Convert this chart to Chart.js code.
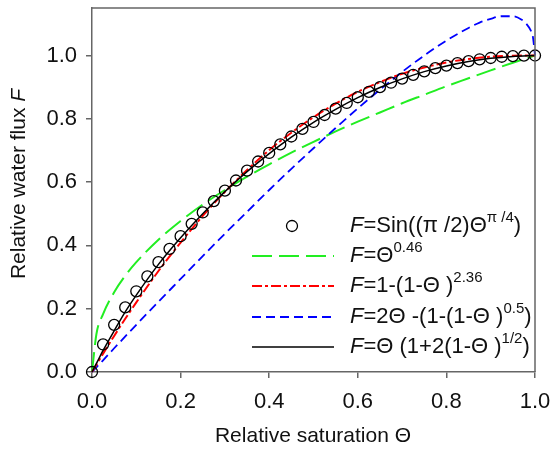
<!DOCTYPE html>
<html>
<head>
<meta charset="utf-8">
<script src="https://cdn.jsdelivr.net/npm/chart.js@4/dist/chart.umd.min.js"></script>
<style>
  html, body { margin: 0; padding: 0; background: #fff; }
  #chart { display: block; }
</style>
</head>
<body>
<canvas id="chart" width="551" height="452"></canvas>
<script>
// circles: F = Sin((pi/2) Theta^(pi/4))
const thetaCircle = [0, 0.025, 0.05, 0.075, 0.1, 0.125, 0.15, 0.175, 0.2, 0.225, 0.25, 0.275, 0.3, 0.325, 0.35,
    0.375, 0.4, 0.425, 0.45, 0.475, 0.5, 0.525, 0.55, 0.575, 0.6, 0.625, 0.65, 0.675, 0.7, 0.725, 0.75,
    0.775, 0.8, 0.825, 0.85, 0.875, 0.9, 0.925, 0.95, 0.975, 1.0];
const fCircle = [0, 0.087, 0.149, 0.204, 0.255, 0.302, 0.347, 0.389, 0.429, 0.468, 0.504, 0.540, 0.573, 0.605, 0.636,
    0.665, 0.692, 0.719, 0.744, 0.768, 0.790, 0.812, 0.832, 0.850, 0.868, 0.885, 0.900, 0.914, 0.927, 0.939, 0.950,
    0.960, 0.968, 0.976, 0.982, 0.988, 0.992, 0.996, 0.998, 0.9995, 1.0];

// curves
const thetaLine = [0, 0.01, 0.025, 0.05, 0.075, 0.1, 0.15, 0.2, 0.25, 0.3, 0.35, 0.4, 0.45, 0.5,
    0.55, 0.6, 0.65, 0.7, 0.75, 0.8, 0.85, 0.9, 0.95, 1.0];
const fGreen = [0, 0.120, 0.183, 0.252, 0.304, 0.347, 0.418, 0.477, 0.529, 0.575, 0.617, 0.656, 0.693, 0.727,
    0.760, 0.791, 0.820, 0.849, 0.876, 0.903, 0.928, 0.953, 0.977, 1.0];
const fRed = [0, 0.023, 0.058, 0.114, 0.168, 0.220, 0.319, 0.409, 0.493, 0.569, 0.638, 0.701, 0.756, 0.805,
    0.848, 0.885, 0.916, 0.942, 0.962, 0.978, 0.989, 0.996, 0.999, 1.0];
const fBlack = [0, 0.027, 0.068, 0.130, 0.190, 0.243, 0.340, 0.424, 0.500, 0.570, 0.633, 0.690, 0.742, 0.789,
    0.830, 0.867, 0.899, 0.926, 0.949, 0.967, 0.981, 0.991, 0.997, 1.0];

const thetaBlue = [0, 0.025, 0.05, 0.1, 0.15, 0.2, 0.25, 0.3, 0.35, 0.4, 0.45, 0.5, 0.55, 0.6, 0.65, 0.7, 0.75,
    0.8, 0.85, 0.875, 0.9, 0.925, 0.95, 0.97, 0.98, 0.99, 0.995, 1.0];
const fBlue = [0, 0.037, 0.075, 0.149, 0.222, 0.294, 0.366, 0.437, 0.506, 0.575, 0.642, 0.707, 0.771, 0.833,
    0.892, 0.948, 1.000, 1.047, 1.087, 1.104, 1.116, 1.124, 1.124, 1.113, 1.101, 1.080, 1.061, 1.0];

const xTicks = [0, 0.2, 0.4, 0.6, 0.8, 1.0];
const yTicks = [0, 0.2, 0.4, 0.6, 0.8, 1.0];

const legendRows = [
    [["F", "i"], ["=Sin((\u03c0 /2)\u0398", "n"], ["\u03c0 /4", "s"], [")", "n"]],
    [["F", "i"], ["=\u0398", "n"], ["0.46", "s"]],
    [["F", "i"], ["=1-(1-\u0398 )", "n"], ["2.36", "s"]],
    [["F", "i"], ["=2\u0398 -(1-(1-\u0398 )", "n"], ["0.5", "s"], [")", "n"]],
    [["F", "i"], ["=\u0398 (1+2(1-\u0398 )", "n"], ["1/2", "s"], [")", "n"]]
];

const FONT = '"Liberation Sans", Arial, sans-serif';
const AXIS = "#666666";

function pairs(xs, ys) {
    return xs.map(function (x, i) { return { x: x, y: ys[i] }; });
}

function drawRich(ctx, parts, x, y, size) {
    parts.forEach(function (p) {
        let font = size + "px " + FONT;
        let dy = 0;
        if (p[1] === "i") font = "italic " + font;
        if (p[1] === "s") { font = Math.round(size * 0.66) + "px " + FONT; dy = -8; }
        ctx.font = font;
        ctx.fillText(p[0], x, y + dy);
        x += ctx.measureText(p[0]).width;
    });
    return x;
}

function richWidth(ctx, parts, size) {
    let w = 0;
    parts.forEach(function (p) {
        let font = size + "px " + FONT;
        if (p[1] === "i") font = "italic " + font;
        if (p[1] === "s") font = Math.round(size * 0.66) + "px " + FONT;
        ctx.font = font;
        w += ctx.measureText(p[0]).width;
    });
    return w;
}

const decor = {
    id: "decor",
    afterDraw: function (chart) {
        const ctx = chart.ctx;
        const a = chart.chartArea;
        ctx.save();
        // frame top and right
        ctx.strokeStyle = AXIS;
        ctx.lineWidth = 1.5;
        ctx.beginPath();
        ctx.moveTo(a.left, a.top);
        ctx.lineTo(a.right, a.top);
        ctx.lineTo(a.right, a.bottom);
        ctx.stroke();

        ctx.fillStyle = "#111";
        ctx.textBaseline = "middle";
        ctx.textAlign = "left";

        // axis titles
        const xt = [["Relative saturation \u0398", "n"]];
        drawRich(ctx, xt, 313 - richWidth(ctx, xt, 21) / 2, 436, 21);
        const yt = [["Relative water flux ", "n"], ["F", "i"]];
        ctx.translate(19, 184);
        ctx.rotate(-Math.PI / 2);
        drawRich(ctx, yt, -richWidth(ctx, yt, 21) / 2, 0, 21);
        ctx.restore();

        // legend
        ctx.save();
        const rowY = [226, 256, 286, 317, 347];
        const styles = [null,
            { c: "#22ee22", d: [20, 7], w: 2 },
            { c: "#ff0000", d: [10, 3, 3, 3], w: 2 },
            { c: "#0000ff", d: [9, 5], w: 1.8 },
            { c: "#000000", d: [], w: 1.5 }];
        rowY.forEach(function (y, i) {
            if (i === 0) {
                ctx.strokeStyle = "#000";
                ctx.lineWidth = 1.3;
                ctx.setLineDash([]);
                ctx.beginPath();
                ctx.arc(292, y, 5.5, 0, Math.PI * 2);
                ctx.stroke();
            } else {
                const s = styles[i];
                ctx.strokeStyle = s.c;
                ctx.lineWidth = s.w;
                ctx.setLineDash(s.d);
                ctx.beginPath();
                ctx.moveTo(252, y);
                ctx.lineTo(334, y);
                ctx.stroke();
            }
            ctx.setLineDash([]);
            ctx.fillStyle = "#111";
            ctx.textBaseline = "middle";
            drawRich(ctx, legendRows[i], 350, y, 22);
        });
        ctx.restore();
    }
};

function zeroPad(scale) {
    scale.paddingTop = 0;
    scale.paddingBottom = 0;
    scale.paddingLeft = 0;
    scale.paddingRight = 0;
}

const tickFont = { family: FONT, size: 22 };

new Chart(document.getElementById("chart").getContext("2d"), {
    type: "scatter",
    data: {
        datasets: [
            {
                label: "circles",
                data: pairs(thetaCircle, fCircle),
                showLine: false,
                pointStyle: "circle",
                pointRadius: 5.5,
                pointBorderWidth: 1.3,
                pointBorderColor: "#000",
                pointBackgroundColor: "rgba(0,0,0,0)",
                clip: false
            },
            {
                label: "black",
                data: pairs(thetaLine, fBlack),
                showLine: true, pointRadius: 0,
                borderColor: "#000", borderWidth: 1.5,
                cubicInterpolationMode: "monotone", clip: false
            },
            {
                label: "red",
                data: pairs(thetaLine, fRed),
                showLine: true, pointRadius: 0,
                borderColor: "#ff0000", borderWidth: 2, borderDash: [10, 3, 3, 3],
                cubicInterpolationMode: "monotone", clip: false
            },
            {
                label: "blue",
                data: pairs(thetaBlue, fBlue),
                showLine: true, pointRadius: 0,
                borderColor: "#0000ff", borderWidth: 1.8, borderDash: [9, 5],
                cubicInterpolationMode: "monotone", clip: false
            },
            {
                label: "green",
                data: pairs(thetaLine, fGreen),
                showLine: true, pointRadius: 0,
                borderColor: "#22ee22", borderWidth: 2, borderDash: [20, 7],
                cubicInterpolationMode: "monotone", clip: false
            }
        ]
    },
    options: {
        responsive: false,
        animation: false,
        events: [],
        layout: { padding: { top: 8, right: 16, left: 0, bottom: 0 } },
        plugins: { legend: { display: false }, tooltip: { enabled: false } },
        scales: {
            x: {
                type: "linear", min: 0, max: 1,
                afterBuildTicks: function (s) { s.ticks = xTicks.map(function (v) { return { value: v }; }); },
                afterFit: function (s) { s.height = 80; zeroPad(s); },
                ticks: { callback: function (v) { return v.toFixed(1); }, font: tickFont, color: "#111", padding: 11, maxRotation: 0 },
                grid: { drawOnChartArea: false, drawTicks: true, tickLength: 6, color: AXIS, lineWidth: 1.5 },
                border: { display: true, color: AXIS, width: 1.5 }
            },
            y: {
                type: "linear", min: 0, max: 1.15,
                afterBuildTicks: function (s) { s.ticks = yTicks.map(function (v) { return { value: v }; }); },
                afterFit: function (s) { s.width = 92; zeroPad(s); },
                ticks: { callback: function (v) { return v.toFixed(1); }, font: tickFont, color: "#111", padding: 9 },
                grid: { drawOnChartArea: false, drawTicks: true, tickLength: 6, color: AXIS, lineWidth: 1.5 },
                border: { display: true, color: AXIS, width: 1.5 }
            }
        }
    },
    plugins: [decor]
});
</script>
</body>
</html>
